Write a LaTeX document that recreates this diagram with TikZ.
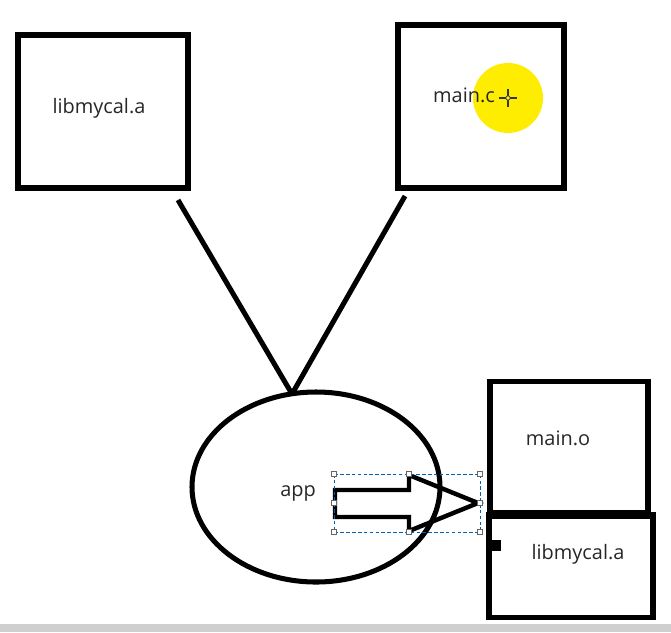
\documentclass[tikz,border=0pt]{standalone}
\usepackage{fontspec}
\setmainfont{Open Sans}
\usetikzlibrary{shapes.geometric}

\tikzset{
  filebox/.style={draw, line width=4.3pt, inner sep=0pt},
  label text/.style={font=\fontsize{17}{20}\selectfont, text=black!85},
  handle/.style={draw=black!60, fill=white, line width=0.5pt, minimum size=4pt, inner sep=0pt},
}

\begin{document}
\begin{tikzpicture}[x=0.03cm, y=-0.03cm]
        % Frame of the screenshot
        \useasboundingbox (0,0) rectangle (671,632);
        \fill[black!19] (0,624) rectangle (671,632);

        % Source files
        \node[filebox, minimum width=170*0.03cm, minimum height=153*0.03cm] (lib) at (103,111.5) {};
        \node[label text] (libtext) at (99,108) {libmycal.a};
        \node[filebox, minimum width=166*0.03cm, minimum height=163*0.03cm] (mainc) at (481,106.5) {};
        \fill[yellow!95!orange] (508,98) circle (35);
        \node[label text, anchor=east] (mainctext) at (499,95) {main.c};
        % Cursor
        \draw[black!80, line width=0.9pt] (499,98) -- (517,98) (508,89) -- (508,107);
        \draw[black!80, fill=yellow, line width=0.6pt] (508,98) circle (2.2);

        % Executable
        \node[draw, ellipse, line width=4.3pt, minimum width=248*0.03cm, minimum height=190*0.03cm] (app) at (316,487) {};
        \node[label text] (apptext) at (298,493) {app};

        % Links into the executable
        \coordinate (libout) at (178,200);
        \coordinate (mainout) at (405,196);
        \coordinate (join) at (292,394);
        \draw[line width=4.3pt] (libout) -- (join);
        \draw[line width=4.3pt] (mainout) -- (join);

        % Block arrow with its selection frame
        \draw[line width=3.8pt, line join=miter] (335,490) -- (409,490) -- (409,475) -- (478,503)
            -- (409,531) -- (409,517) -- (335,517) -- cycle;
        \draw[blue!45!cyan!70!black, dash pattern=on 3pt off 2pt, line width=0.7pt] (334,474) rectangle (480,532);
        \foreach \hx/\hy in {334/474, 409/474, 480/474, 334/503, 480/503, 334/532, 409/532, 480/532}
            \node[handle] at (\hx,\hy) {};

        % Contents of the executable
        \node[filebox, minimum width=158*0.03cm, minimum height=131*0.03cm] (maino) at (569,447) {};
        \node[label text] (mainotext) at (558,438) {main.o};
        \node[filebox, minimum width=164*0.03cm, minimum height=103*0.03cm] (libcopy) at (571,566) {};
        \fill (488,510) rectangle (650,519);
        \fill (490,540) rectangle (501,551);
        \node[label text] (libcopytext) at (578,554) {libmycal.a};
\end{tikzpicture}
\end{document}
